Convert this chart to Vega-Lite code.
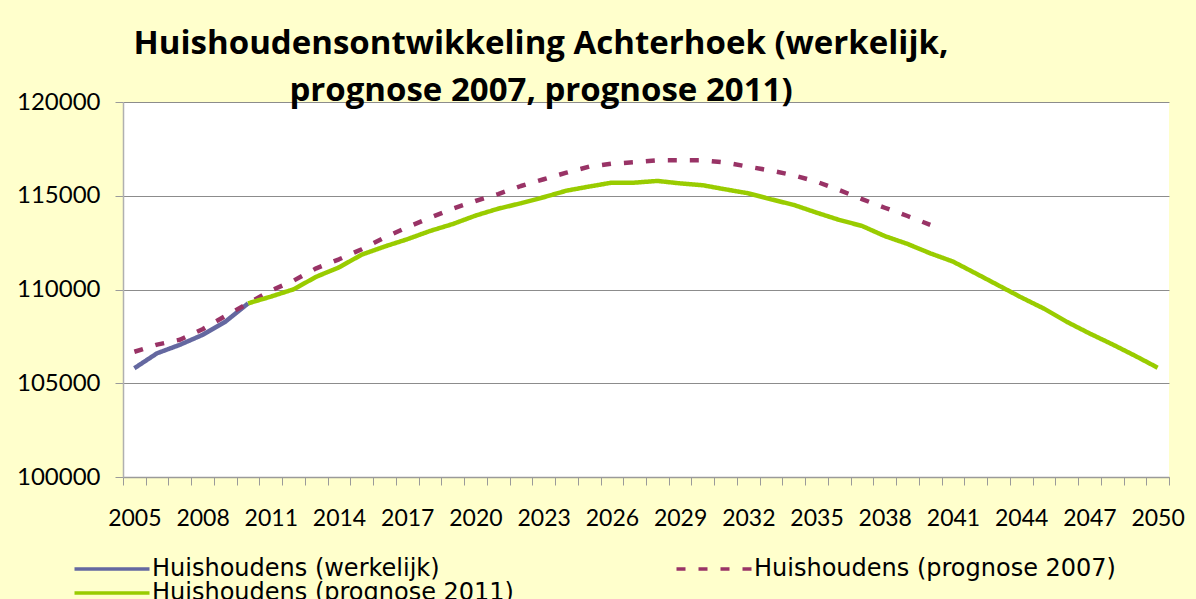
{
  "$schema": "https://vega.github.io/schema/vega-lite/v6.json",
  "autosize": "none",
  "width": 1046,
  "height": 375,
  "padding": {"left": 123, "top": 102, "right": 27, "bottom": 122},
  "background": "#FFFFCC",
  "title": {
    "text": ["Huishoudensontwikkeling Achterhoek (werkelijk,", "prognose 2007, prognose 2011)"],
    "font": "Open Sans",
    "fontSize": 33,
    "fontWeight": "bold",
    "color": "#000000",
    "anchor": "middle",
    "frame": "group",
    "dx": -105,
    "offset": -18,
    "lineHeight": 47
  },
  "config": {
    "view": {"fill": "white", "stroke": null},
    "font": "Lato"
  },
  "data": {
    "values": [
      {"jaar": 2005, "serie": "Huishoudens (werkelijk)", "waarde": 105800},
      {"jaar": 2006, "serie": "Huishoudens (werkelijk)", "waarde": 106600},
      {"jaar": 2007, "serie": "Huishoudens (werkelijk)", "waarde": 107050},
      {"jaar": 2008, "serie": "Huishoudens (werkelijk)", "waarde": 107580},
      {"jaar": 2009, "serie": "Huishoudens (werkelijk)", "waarde": 108280},
      {"jaar": 2010, "serie": "Huishoudens (werkelijk)", "waarde": 109260},
      {"jaar": 2005, "serie": "Huishoudens (prognose 2007)", "waarde": 106680},
      {"jaar": 2006, "serie": "Huishoudens (prognose 2007)", "waarde": 107060},
      {"jaar": 2007, "serie": "Huishoudens (prognose 2007)", "waarde": 107320},
      {"jaar": 2008, "serie": "Huishoudens (prognose 2007)", "waarde": 107880},
      {"jaar": 2009, "serie": "Huishoudens (prognose 2007)", "waarde": 108590},
      {"jaar": 2010, "serie": "Huishoudens (prognose 2007)", "waarde": 109260},
      {"jaar": 2011, "serie": "Huishoudens (prognose 2007)", "waarde": 109940},
      {"jaar": 2012, "serie": "Huishoudens (prognose 2007)", "waarde": 110470},
      {"jaar": 2013, "serie": "Huishoudens (prognose 2007)", "waarde": 111130},
      {"jaar": 2014, "serie": "Huishoudens (prognose 2007)", "waarde": 111610},
      {"jaar": 2015, "serie": "Huishoudens (prognose 2007)", "waarde": 112150},
      {"jaar": 2016, "serie": "Huishoudens (prognose 2007)", "waarde": 112770},
      {"jaar": 2017, "serie": "Huishoudens (prognose 2007)", "waarde": 113320},
      {"jaar": 2018, "serie": "Huishoudens (prognose 2007)", "waarde": 113830},
      {"jaar": 2019, "serie": "Huishoudens (prognose 2007)", "waarde": 114310},
      {"jaar": 2020, "serie": "Huishoudens (prognose 2007)", "waarde": 114720},
      {"jaar": 2021, "serie": "Huishoudens (prognose 2007)", "waarde": 115090},
      {"jaar": 2022, "serie": "Huishoudens (prognose 2007)", "waarde": 115520},
      {"jaar": 2023, "serie": "Huishoudens (prognose 2007)", "waarde": 115880},
      {"jaar": 2024, "serie": "Huishoudens (prognose 2007)", "waarde": 116230},
      {"jaar": 2025, "serie": "Huishoudens (prognose 2007)", "waarde": 116550},
      {"jaar": 2026, "serie": "Huishoudens (prognose 2007)", "waarde": 116710},
      {"jaar": 2027, "serie": "Huishoudens (prognose 2007)", "waarde": 116790},
      {"jaar": 2028, "serie": "Huishoudens (prognose 2007)", "waarde": 116890},
      {"jaar": 2029, "serie": "Huishoudens (prognose 2007)", "waarde": 116890},
      {"jaar": 2030, "serie": "Huishoudens (prognose 2007)", "waarde": 116890},
      {"jaar": 2031, "serie": "Huishoudens (prognose 2007)", "waarde": 116770},
      {"jaar": 2032, "serie": "Huishoudens (prognose 2007)", "waarde": 116550},
      {"jaar": 2033, "serie": "Huishoudens (prognose 2007)", "waarde": 116340},
      {"jaar": 2034, "serie": "Huishoudens (prognose 2007)", "waarde": 116090},
      {"jaar": 2035, "serie": "Huishoudens (prognose 2007)", "waarde": 115750},
      {"jaar": 2036, "serie": "Huishoudens (prognose 2007)", "waarde": 115300},
      {"jaar": 2037, "serie": "Huishoudens (prognose 2007)", "waarde": 114820},
      {"jaar": 2038, "serie": "Huishoudens (prognose 2007)", "waarde": 114360},
      {"jaar": 2039, "serie": "Huishoudens (prognose 2007)", "waarde": 113920},
      {"jaar": 2040, "serie": "Huishoudens (prognose 2007)", "waarde": 113450},
      {"jaar": 2010, "serie": "Huishoudens (prognose 2011)", "waarde": 109260},
      {"jaar": 2011, "serie": "Huishoudens (prognose 2011)", "waarde": 109620},
      {"jaar": 2012, "serie": "Huishoudens (prognose 2011)", "waarde": 110010},
      {"jaar": 2013, "serie": "Huishoudens (prognose 2011)", "waarde": 110680},
      {"jaar": 2014, "serie": "Huishoudens (prognose 2011)", "waarde": 111180},
      {"jaar": 2015, "serie": "Huishoudens (prognose 2011)", "waarde": 111860},
      {"jaar": 2016, "serie": "Huishoudens (prognose 2011)", "waarde": 112290},
      {"jaar": 2017, "serie": "Huishoudens (prognose 2011)", "waarde": 112680},
      {"jaar": 2018, "serie": "Huishoudens (prognose 2011)", "waarde": 113120},
      {"jaar": 2019, "serie": "Huishoudens (prognose 2011)", "waarde": 113490},
      {"jaar": 2020, "serie": "Huishoudens (prognose 2011)", "waarde": 113940},
      {"jaar": 2021, "serie": "Huishoudens (prognose 2011)", "waarde": 114310},
      {"jaar": 2022, "serie": "Huishoudens (prognose 2011)", "waarde": 114600},
      {"jaar": 2023, "serie": "Huishoudens (prognose 2011)", "waarde": 114920},
      {"jaar": 2024, "serie": "Huishoudens (prognose 2011)", "waarde": 115270},
      {"jaar": 2025, "serie": "Huishoudens (prognose 2011)", "waarde": 115490},
      {"jaar": 2026, "serie": "Huishoudens (prognose 2011)", "waarde": 115700},
      {"jaar": 2027, "serie": "Huishoudens (prognose 2011)", "waarde": 115700},
      {"jaar": 2028, "serie": "Huishoudens (prognose 2011)", "waarde": 115790},
      {"jaar": 2029, "serie": "Huishoudens (prognose 2011)", "waarde": 115660},
      {"jaar": 2030, "serie": "Huishoudens (prognose 2011)", "waarde": 115560},
      {"jaar": 2031, "serie": "Huishoudens (prognose 2011)", "waarde": 115340},
      {"jaar": 2032, "serie": "Huishoudens (prognose 2011)", "waarde": 115130},
      {"jaar": 2033, "serie": "Huishoudens (prognose 2011)", "waarde": 114810},
      {"jaar": 2034, "serie": "Huishoudens (prognose 2011)", "waarde": 114510},
      {"jaar": 2035, "serie": "Huishoudens (prognose 2011)", "waarde": 114100},
      {"jaar": 2036, "serie": "Huishoudens (prognose 2011)", "waarde": 113710},
      {"jaar": 2037, "serie": "Huishoudens (prognose 2011)", "waarde": 113390},
      {"jaar": 2038, "serie": "Huishoudens (prognose 2011)", "waarde": 112850},
      {"jaar": 2039, "serie": "Huishoudens (prognose 2011)", "waarde": 112430},
      {"jaar": 2040, "serie": "Huishoudens (prognose 2011)", "waarde": 111930},
      {"jaar": 2041, "serie": "Huishoudens (prognose 2011)", "waarde": 111490},
      {"jaar": 2042, "serie": "Huishoudens (prognose 2011)", "waarde": 110860},
      {"jaar": 2043, "serie": "Huishoudens (prognose 2011)", "waarde": 110220},
      {"jaar": 2044, "serie": "Huishoudens (prognose 2011)", "waarde": 109580},
      {"jaar": 2045, "serie": "Huishoudens (prognose 2011)", "waarde": 108980},
      {"jaar": 2046, "serie": "Huishoudens (prognose 2011)", "waarde": 108280},
      {"jaar": 2047, "serie": "Huishoudens (prognose 2011)", "waarde": 107660},
      {"jaar": 2048, "serie": "Huishoudens (prognose 2011)", "waarde": 107080},
      {"jaar": 2049, "serie": "Huishoudens (prognose 2011)", "waarde": 106470},
      {"jaar": 2050, "serie": "Huishoudens (prognose 2011)", "waarde": 105830}
    ]
  },
  "mark": {"type": "line", "strokeWidth": 4.5, "strokeCap": "butt", "strokeJoin": "round"},
  "encoding": {
    "x": {
      "field": "jaar",
      "type": "ordinal",
      "bandPosition": 0.5,
      "scale": {"type": "band", "paddingInner": 0, "paddingOuter": 0},
      "axis": {
        "title": null,
        "labelAngle": 0,
        "labelExpr": "(+datum.value - 2005) % 3 === 0 ? datum.label : ''",
        "labelFont": "Lato",
        "labelFontSize": 23,
        "labelColor": "#000000",
        "labelPadding": 22,
        "labelOverlap": false,
        "tickBand": "extent",
        "tickSize": 8,
        "tickColor": "#9a9a9a",
        "domainColor": "#9a9a9a",
        "domainWidth": 1.5,
        "grid": false
      }
    },
    "y": {
      "field": "waarde",
      "type": "quantitative",
      "scale": {"domain": [100000, 120000], "nice": false, "zero": false},
      "axis": {
        "title": null,
        "values": [100000, 105000, 110000, 115000, 120000],
        "format": "d",
        "labelFont": "Lato",
        "labelFontSize": 24,
        "labelColor": "#000000",
        "labelPadding": 15,
        "tickSize": 8,
        "tickColor": "#9a9a9a",
        "domainColor": "#b0b0b0",
        "domainWidth": 1.5,
        "grid": true,
        "gridColor": "#8c8c8c",
        "gridWidth": 1
      }
    },
    "color": {
      "field": "serie",
      "type": "nominal",
      "scale": {
        "domain": ["Huishoudens (werkelijk)", "Huishoudens (prognose 2011)", "Huishoudens (prognose 2007)"],
        "range": ["#6468A0", "#99CC00", "#993366"]
      },
      "legend": {
        "title": null,
        "orient": "none",
        "legendX": -23,
        "legendY": 455,
        "columns": 2,
        "columnPadding": 155,
        "rowPadding": -2,
        "symbolType": "M-3.75,0H3.75",
        "symbolSize": 400,
        "symbolStrokeWidth": 3.5,
        "labelFont": "DejaVu Sans",
        "labelFontSize": 24,
        "labelColor": "#000000",
        "labelLimit": 500,
        "labelOffset": 28
      }
    },
    "strokeDash": {
      "field": "serie",
      "type": "nominal",
      "scale": {
        "domain": ["Huishoudens (werkelijk)", "Huishoudens (prognose 2011)", "Huishoudens (prognose 2007)"],
        "range": [[1, 0], [1, 0], [9, 13]]
      },
      "legend": null
    }
  }
}
